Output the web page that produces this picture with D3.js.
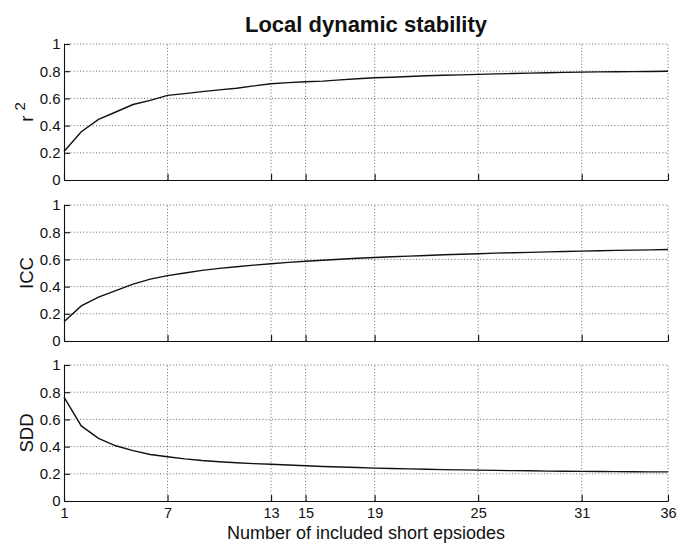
<!DOCTYPE html>
<html>
<head>
<meta charset="utf-8">
<script src="https://cdn.jsdelivr.net/npm/d3@7"></script>
<style>
  html, body { margin: 0; padding: 0; background: #fff; }
  svg { display: block; font-family: "Liberation Sans", Arial, Helvetica, sans-serif; }
</style>
</head>
<body>
<svg id="chart" width="678" height="544"></svg>
<script>
// ---- data ----
const episodes = d3.range(1, 37);
const r2Values = [0.21, 0.355, 0.445, 0.50, 0.555, 0.585, 0.622, 0.635, 0.65, 0.663, 0.675, 0.692, 0.708, 0.716, 0.722, 0.727, 0.736, 0.745, 0.752, 0.756, 0.761, 0.766, 0.77, 0.773, 0.777, 0.78, 0.783, 0.786, 0.789, 0.791, 0.793, 0.795, 0.796, 0.797, 0.798, 0.8];
const iccValues = [0.142, 0.258, 0.322, 0.371, 0.418, 0.455, 0.481, 0.5, 0.519, 0.534, 0.546, 0.558, 0.568, 0.578, 0.586, 0.594, 0.601, 0.608, 0.614, 0.619, 0.624, 0.629, 0.634, 0.638, 0.642, 0.646, 0.649, 0.652, 0.655, 0.658, 0.661, 0.664, 0.666, 0.668, 0.67, 0.673];
const sddValues = [0.764, 0.552, 0.46, 0.406, 0.37, 0.342, 0.325, 0.31, 0.298, 0.289, 0.281, 0.275, 0.27, 0.265, 0.259, 0.254, 0.25, 0.246, 0.242, 0.239, 0.236, 0.233, 0.231, 0.229, 0.227, 0.225, 0.223, 0.222, 0.22, 0.219, 0.218, 0.217, 0.216, 0.215, 0.214, 0.214];
const xTicks = [1, 7, 13, 15, 19, 25, 31, 36];
const yTicks = [0, 0.2, 0.4, 0.6, 0.8, 1];
const yTickLabels = ["0", "0.2", "0.4", "0.6", "0.8", "1"];
const panelLabels = ["r", "ICC", "SDD"];
const panelSeries = [r2Values, iccValues, sddValues];
const titleText = "Local dynamic stability";
const xLabelText = "Number of included short epsiodes";

// ---- layout ----
const svg = d3.select("#chart");
const left = 64, right = 668;
const panelTops = [44, 205, 365];
const panelHeight = 136;

const x = d3.scaleLinear().domain([1, 36]).range([left, right]);

svg.append("text")
  .attr("x", 366).attr("y", 32)
  .attr("text-anchor", "middle")
  .attr("font-size", "22px").attr("font-weight", "bold")
  .attr("fill", "#111")
  .text(titleText);

panelSeries.forEach((vals, i) => {
  const top = panelTops[i];
  const y = d3.scaleLinear().domain([0, 1]).range([top + panelHeight, top]);
  const g = svg.append("g");

  // grid
  const grid = g.append("g").attr("stroke", "#444").attr("stroke-width", 0.8)
    .attr("stroke-dasharray", "1,2.2").attr("fill", "none");
  yTicks.filter(t => t > 0).forEach(t => {
    grid.append("line").attr("x1", left).attr("x2", right)
      .attr("y1", y(t)).attr("y2", y(t));
  });
  xTicks.filter(t => t > 1).forEach(t => {
    grid.append("line").attr("x1", x(t)).attr("x2", x(t))
      .attr("y1", y(0)).attr("y2", y(1));
  });

  // axes
  const xAxis = d3.axisBottom(x).tickValues(xTicks).tickSizeInner(-6).tickSizeOuter(0)
    .tickFormat(i === 2 ? d3.format("d") : () => "").tickPadding(10);
  const gx = g.append("g").attr("transform", `translate(0,${y(0)})`).call(xAxis);
  const yAxis = d3.axisLeft(y).tickValues(yTicks).tickSizeInner(-6).tickSizeOuter(0)
    .tickFormat((d, k) => yTickLabels[k]).tickPadding(3.5);
  const gy = g.append("g").attr("transform", `translate(${left},0)`).call(yAxis);
  [gx, gy].forEach(a => {
    a.select(".domain").attr("stroke", "#111").attr("stroke-width", 1.1);
    a.selectAll(".tick line").attr("stroke", "#111").attr("stroke-width", 1.1);
    a.selectAll(".tick text").attr("fill", "#111").attr("font-size", "15px")
      .attr("font-family", "Liberation Sans, Arial, sans-serif");
  });
  gx.selectAll(".tick text").attr("font-size", "14.5px").attr("dy", "0.71em").attr("y", 6.5);

  // line
  const line = d3.line().x((d, k) => x(episodes[k])).y(d => y(d));
  g.append("path").datum(vals)
    .attr("fill", "none").attr("stroke", "#111").attr("stroke-width", 1.4)
    .attr("d", line);

  // y label
  const cy = top + panelHeight / 2;
  const lab = g.append("text")
    .attr("transform", `translate(33,${cy}) rotate(-90)`)
    .attr("text-anchor", "middle")
    .attr("font-size", "18.5px").attr("fill", "#111");
  if (i === 0) {
    lab.append("tspan").text("r ");
    lab.append("tspan").attr("dy", "-0.55em").attr("font-size", "15px").text("2");
  } else {
    lab.text(panelLabels[i]);
  }
});

svg.append("text")
  .attr("x", 366).attr("y", 539)
  .attr("text-anchor", "middle")
  .attr("font-size", "18px").attr("fill", "#111")
  .text(xLabelText);
</script>
</body>
</html>
